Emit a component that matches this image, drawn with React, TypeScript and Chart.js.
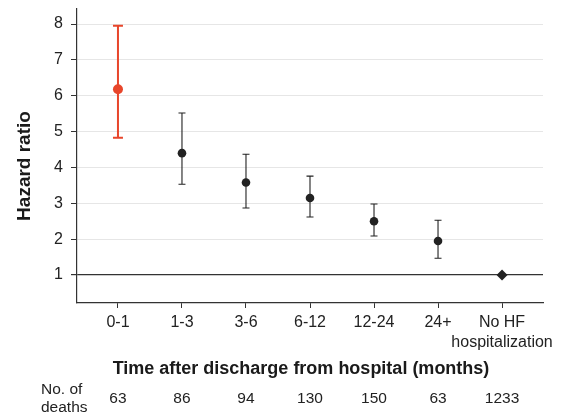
import React, { useEffect, useRef } from "react";
import { Chart, registerables } from "chart.js";
Chart.register(...registerables);

const categories = ["0-1", "1-3", "3-6", "6-12", "12-24", "24+", "No HF|hospitalization"];
const hazard = [6.18, 4.4, 3.58, 3.15, 2.5, 1.95, 1.0];
const lower = [4.83, 3.53, 2.87, 2.62, 2.09, 1.47, null];
const upper = [7.95, 5.52, 4.37, 3.76, 2.98, 2.53, null];
const deaths = ["63", "86", "94", "130", "150", "63", "1233"];
const yTicks = [1, 2, 3, 4, 5, 6, 7, 8];

const RED = "#e8462b";
const DARK = "#222222";
const FONT = "'Liberation Sans', Arial, Helvetica, sans-serif";

export default function App() {
  const ref = useRef<HTMLCanvasElement>(null);
  useEffect(() => {
    const canvas = ref.current!;
    const colors = hazard.map((_, i) => (i === 0 ? RED : DARK));
    const errorPlugin = {
      id: "errbars",
      beforeDatasetsDraw(chart: any) {
        const { ctx } = chart;
        const xs = chart.scales.x;
        const ys = chart.scales.y;
        ctx.save();
        hazard.forEach((_, i) => {
          const lo = lower[i];
          const hi = upper[i];
          if (lo == null || hi == null) return;
          const x = xs.getPixelForValue(i);
          const y1 = ys.getPixelForValue(lo);
          const y2 = ys.getPixelForValue(hi);
          const cap = i === 0 ? 5 : 3.5;
          ctx.strokeStyle = colors[i];
          ctx.lineWidth = i === 0 ? 2 : 1.1;
          ctx.beginPath();
          ctx.moveTo(x, y1);
          ctx.lineTo(x, y2);
          ctx.moveTo(x - cap, y1);
          ctx.lineTo(x + cap, y1);
          ctx.moveTo(x - cap, y2);
          ctx.lineTo(x + cap, y2);
          ctx.stroke();
        });
        ctx.restore();
      },
      afterDraw(chart: any) {
        const { ctx } = chart;
        const xs = chart.scales.x;
        ctx.save();
        ctx.fillStyle = "#1a1a1a";
        ctx.textAlign = "center";
        ctx.textBaseline = "middle";
        ctx.font = `bold 18px ${FONT}`;
        ctx.fillText("Time after discharge from hospital (months)", 301, 369);
        ctx.save();
        ctx.translate(25, 166);
        ctx.rotate(-Math.PI / 2);
        ctx.font = `bold 19px ${FONT}`;
        ctx.fillText("Hazard ratio", 0, 0);
        ctx.restore();
        ctx.font = `15.5px ${FONT}`;
        ctx.fillStyle = "#222";
        ctx.textAlign = "left";
        ctx.fillText("No. of", 41, 390);
        ctx.fillText("deaths", 41, 408);
        ctx.textAlign = "center";
        deaths.forEach((d, i) => {
          ctx.fillText(d, xs.getPixelForValue(i), 399);
        });
        ctx.restore();
      },
    };

    const chart = new Chart(canvas, {
      type: "scatter",
      data: {
        datasets: [
          {
            data: hazard.map((v, i) => ({ x: i, y: v })),
            backgroundColor: colors,
            borderColor: colors,
            pointRadius: hazard.map((_, i) => (i === 0 ? 5 : i === 6 ? 5.5 : 4.3)),
            pointStyle: hazard.map((_, i) => (i === 6 ? "rectRot" : "circle")),
            pointBorderWidth: 0,
          },
        ],
      },
      options: {
        responsive: false,
        animation: false,
        layout: { padding: { left: 0, right: 21, top: 9, bottom: 0 } },
        plugins: { legend: { display: false }, tooltip: { enabled: false } },
        scales: {
          x: {
            type: "linear",
            min: -0.64,
            max: 6.64,
            afterBuildTicks: (s: any) => {
              s.ticks = categories.map((_, i) => ({ value: i }));
            },
            afterFit: (s: any) => {
              s.height = 113;
              s.paddingLeft = 0;
              s.paddingRight = 0;
            },
            ticks: {
              callback: (v: any) => {
                const c = categories[Math.round(v)];
                return c && c.includes("|") ? c.split("|") : c;
              },
              color: "#222",
              font: { family: FONT, size: 16, lineHeight: 1.25 },
              padding: 5,
              maxRotation: 0,
              autoSkip: false,
            },
            grid: { drawOnChartArea: false, tickLength: 5, color: "#333", tickColor: "#333" },
            border: { color: "#333", width: 1.2 },
          },
          y: {
            type: "linear",
            min: 0.22,
            max: 8.42,
            afterBuildTicks: (s: any) => {
              s.ticks = yTicks.map((v) => ({ value: v }));
            },
            afterFit: (s: any) => {
              s.width = 77;
              s.paddingTop = 0;
              s.paddingBottom = 0;
            },
            ticks: {
              color: "#222",
              font: { family: FONT, size: 16 },
              padding: 8,
            },
            grid: {
              tickLength: 6,
              tickColor: "#333",
              color: (c: any) => (c.tick && c.tick.value === 1 ? "#333" : "#e6e6e6"),
              lineWidth: (c: any) => (c.tick && c.tick.value === 1 ? 1.2 : 1),
            },
            border: { color: "#333", width: 1.2 },
          },
        },
      },
      plugins: [errorPlugin],
    } as any);
    return () => chart.destroy();
  }, []);
  return (
    <div style={{ position: "fixed", left: 0, top: 0, width: 564, height: 416, background: "#fff" }}>
      <canvas ref={ref} width={564} height={416} style={{ width: 564, height: 416 }} />
    </div>
  );
}
